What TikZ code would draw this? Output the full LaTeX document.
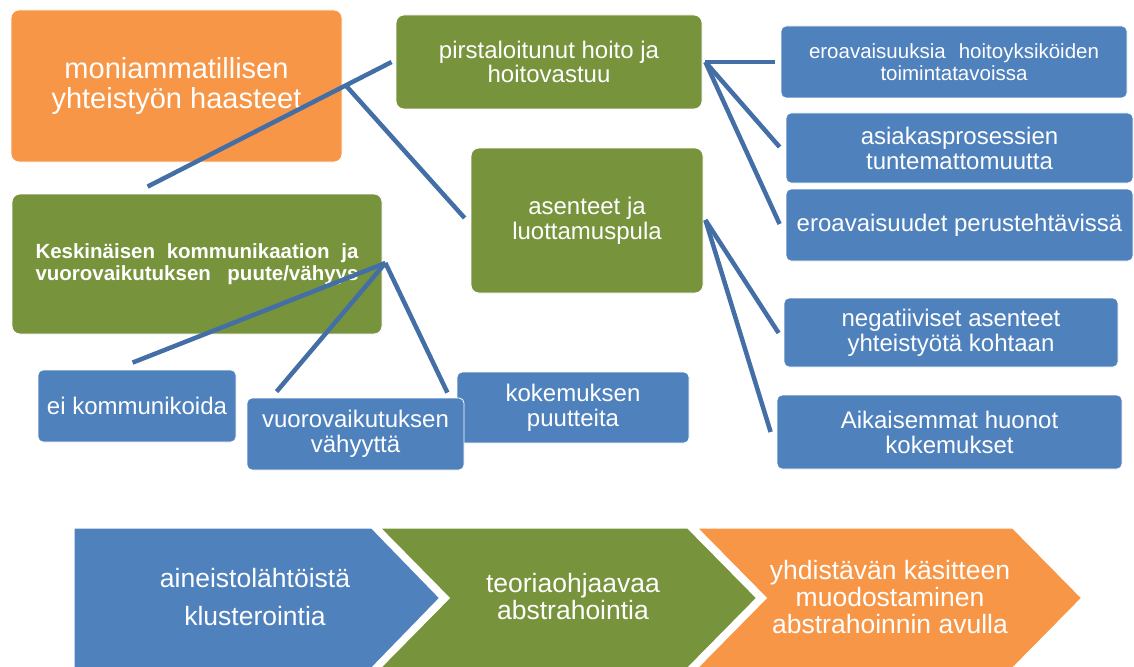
\documentclass[tikz,border=0pt]{standalone}
\usepackage{fontspec}
\setmainfont{Liberation Sans}
\usetikzlibrary{calc}
\definecolor{cOrange}{RGB}{247,150,70}
\definecolor{cGreen}{RGB}{119,147,60}
\definecolor{cBlue}{RGB}{79,129,189}
\definecolor{cLine}{RGB}{68,111,166}
\newcommand\fsz[2]{\fontsize{#1}{#2}\selectfont}
\begin{document}
\begin{tikzpicture}[x=1pt,y=-1pt,
  box/.style={rounded corners=8pt, draw=white, line width=0.8pt, text=white, align=center, inner sep=0pt},
  obox/.style={box, fill=cOrange},
  gbox/.style={box, fill=cGreen},
  bbox/.style={box, fill=cBlue, rounded corners=5pt, font=\fsz{24}{25}},
  link/.style={draw=cLine, line width=4.5pt},
  chev/.style={draw=white, line width=3pt, line join=miter},
  ctext/.style={text=white, align=center, font=\fsz{26.5}{27}}
]
\useasboundingbox (0,0) rectangle (1134,666);

% upper boxes
\node[obox, minimum width=331pt, minimum height=152pt, font=\fsz{29}{30}] (haast) at (176.5,86) {moniammatillisen\\yhteistyön haasteet};
\node[gbox, minimum width=306pt, minimum height=94pt, font=\fsz{24}{24}] (pirst) at (549,62) {pirstaloitunut hoito ja\\hoitovastuu};
\node[gbox, minimum width=232pt, minimum height=145pt, font=\fsz{24}{25}] (asent) at (587,220.5) {asenteet ja\\luottamuspula};
\node[gbox, minimum width=370pt, minimum height=140pt, font=\bfseries\fsz{20.5}{22}] (kesk) at (197,264)
  {\hbox to 323pt{Keskinäisen\hfill kommunikaation\hfill ja}\\\hbox to 323pt{vuorovaikutuksen\hfill puute/vähyys}};

% lower-left blue boxes
\node[bbox, minimum width=198pt, minimum height=72pt] (eikom) at (137,406) {ei kommunikoida};
\node[bbox, minimum width=232pt, minimum height=71pt] (kokem) at (573,407.5) {kokemuksen\\puutteita};
\node[bbox, minimum width=217pt, minimum height=72pt] (vuoro) at (355.5,434) {vuorovaikutuksen\\vähyyttä};

% right blue boxes
\node[bbox, minimum width=346pt, minimum height=72pt, font=\fsz{20.5}{22}] (eroa) at (954,62)
  {\hbox to 290pt{eroavaisuuksia\hfill hoitoyksiköiden}\\toimintatavoissa};
\node[bbox, minimum width=347pt, minimum height=70pt] (asiak) at (959.5,148) {asiakasprosessien\\tuntemattomuutta};
\node[bbox, minimum width=347pt, minimum height=72pt] (perus) at (959.5,225) {eroavaisuudet perustehtävissä};
\node[bbox, minimum width=334pt, minimum height=69pt] (negat) at (951,332.5) {negatiiviset asenteet\\yhteistyötä kohtaan};
\node[bbox, minimum width=345pt, minimum height=74pt] (aikai) at (949.5,432) {Aikaisemmat huonot\\kokemukset};

% connectors
\draw[link] ($(kesk.north west)+(136,-7)$) -- ($(pirst.west)+(-4,0)$);
\draw[link] ($(haast.east)+(3,-1)$) -- ($(asent.west)+(-6,-2.5)$);
\draw[link] ($(pirst.east)+(3,0)$) -- ($(eroa.west)+(-6,0)$);
\draw[link] ($(pirst.east)+(3,0)$) -- ($(asiak.west)+(-6,-1)$);
\draw[link] ($(pirst.east)+(3,0)$) -- ($(perus.west)+(-6,-1)$);
\draw[link] ($(asent.east)+(2,-0.5)$) -- ($(negat.west)+(-5,0.5)$);
\draw[link] ($(asent.east)+(2,-0.5)$) -- ($(aikai.west)+(-6,0)$);
\draw[link] ($(kesk.east)+(3,-1)$) -- ($(eikom.north west)+(95,-7)$);
\draw[link] ($(kesk.east)+(3,-1)$) -- ($(vuoro.north west)+(30,-6)$);
\draw[link] ($(kesk.east)+(3,-1)$) -- ($(vuoro.north east)+(-17,-5)$);

% bottom chevrons
\path[chev, fill=cBlue] (73,527) -- (372,527) -- (441,598) -- (372,669) -- (73,669) -- cycle;
\path[chev, fill=cGreen] (378,527) -- (688,527) -- (758,598) -- (688,669) -- (378,669) -- (448,598) -- cycle;
\path[chev, fill=cOrange] (695,527) -- (1013,527) -- (1083,598) -- (1013,669) -- (695,669) -- (765,598) -- cycle;
\node[ctext] (c1) at (255,597.5) {aineistolähtöistä\\[11pt]klusterointia};
\node[ctext] (c2) at (573,597) {teoriaohjaavaa\\abstrahointia};
\node[ctext] (c3) at (890,597) {yhdistävän käsitteen\\muodostaminen\\abstrahoinnin avulla};
\end{tikzpicture}
\end{document}
